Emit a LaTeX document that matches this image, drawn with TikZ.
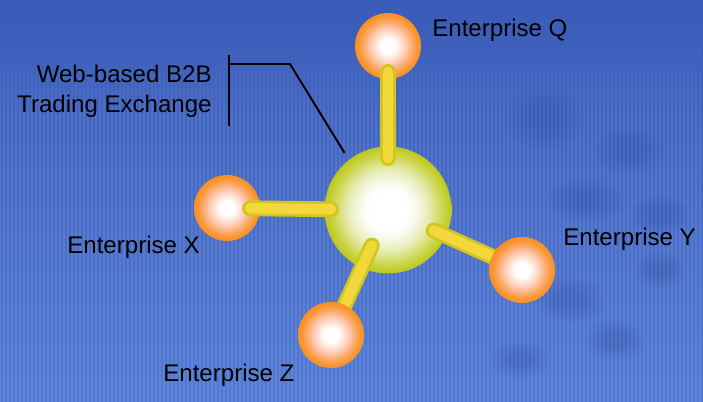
\documentclass[tikz,border=0pt]{standalone}
\usepackage{fontspec}
\setmainfont{Liberation Sans}
\usepackage{tikz}
\definecolor{bgtop}{RGB}{58,92,184}
\definecolor{bgmid}{RGB}{98,138,224}
\definecolor{bgbot}{RGB}{82,122,212}
\definecolor{blobblue}{RGB}{45,75,165}
\definecolor{ballorange}{RGB}{248,140,30}
\definecolor{balllight}{RGB}{250,152,52}
\definecolor{ballpeach}{RGB}{255,206,186}
\definecolor{ballmid}{RGB}{252,172,112}
\definecolor{hubgreen}{RGB}{185,198,25}
\definecolor{hubmid}{RGB}{202,212,66}
\definecolor{hubpale}{RGB}{230,236,182}
\definecolor{stickdark}{RGB}{208,198,30}
\definecolor{sticklight}{RGB}{243,216,60}
\pgfdeclareradialshading{orangeball}{\pgfpoint{0bp}{0bp}}{color(0bp)=(white); color(5.5bp)=(white); color(13bp)=(ballpeach); color(18bp)=(ballmid); color(22bp)=(balllight); color(26bp)=(ballorange); color(50bp)=(ballorange)}
\pgfdeclareradialshading{hubball}{\pgfpoint{0bp}{0bp}}{color(0bp)=(white); color(7bp)=(white); color(10bp)=(white!85!hubpale); color(16bp)=(hubpale); color(22bp)=(hubmid); color(25.5bp)=(hubgreen); color(50bp)=(hubgreen)}
\pgfdeclarelayer{front}
\pgfsetlayers{main,front}

\begin{document}
\begin{tikzpicture}[x=0.02cm,y=-0.02cm,
	ball/.style = {circle,inner sep=0pt,minimum size=1.32cm,shading=orangeball},
	hub/.style = {circle,inner sep=0pt,minimum size=2.54cm,shading=hubball},
	stick/.style = {line width=9pt,line cap=round,stickdark,postaction={draw,sticklight,line width=6pt}},
	lbl/.style = {font=\fontsize{13.7}{17}\selectfont,inner sep=0pt},
	blob/.style = {blobblue,opacity=0.07}
	]
	%SFONDO
	\useasboundingbox (0,0) rectangle (703,402);
	\shade[top color=bgtop,middle color=bgmid,bottom color=bgbot] (0,0) rectangle (703,402);
	\foreach \bx/\by/\ba/\bb in {545/120/40/30,630/150/35/25,585/200/40/22,660/215/30/20,570/300/35/22,615/340/30/20,660/270/25/18,520/360/30/18}
		\foreach \k in {0.4,0.55,0.7,0.85,1}
			\fill[blob] (\bx,\by) ellipse [x radius=\k*\ba,y radius=\k*\bb];
	\foreach \sx in {0,4,...,700}
		\foreach \sy in {50,70,90,110}
			\draw[white,opacity=0.024,line width=0.6pt] (\sx,\sy) -- (\sx,402);
	%NODI
	\node[ball] (@Q) at (388,46) {};
	\node[ball] (@X) at (227,208) {};
	\node[hub] (@H) at (388,210) {};
	\begin{pgfonlayer}{front}
	\node[ball] (@Y) at (522,270) {};
	\node[ball] (@Z) at (331,335) {};
	\end{pgfonlayer}
	%BASTONCINI
	\draw[stick,shorten <=1.04cm,shorten >=0.52cm] (@H.center) -- (@Q.center);
	\draw[stick,shorten <=1.14cm,shorten >=0.46cm] (@H.center) -- (@X.center);
	\draw[stick,shorten <=1.0cm,shorten >=0.6cm] (@H.center) -- (@Y.center);
	\draw[stick,shorten <=0.78cm,shorten >=0.6cm] (@H.center) -- (@Z.center);
	%ETICHETTE
	\node[lbl,anchor=base west] (@lQ) at (432,37) {Enterprise Q};
	\node[lbl,anchor=base west] (@lX) at (67,253) {Enterprise X};
	\node[lbl,anchor=base west] (@lY) at (563,245) {Enterprise Y};
	\node[lbl,anchor=base west] (@lZ) at (163,381) {Enterprise Z};
	\node[lbl,anchor=east,align=right] (@lH) at (212,91) {Web-based B2B\\Trading Exchange};
	%RICHIAMO
	\coordinate (@bT) at (229,55);
	\coordinate (@bB) at (229,126);
	\coordinate (@bM) at (229,64);
	\coordinate (@bK) at (290,64);
	\draw[line width=1.1pt] (@bT) -- (@bB);
	\draw[line width=1.1pt,shorten >=0.16cm] (@bM) -- (@bK) -- (@H.128);
\end{tikzpicture}
\end{document}
